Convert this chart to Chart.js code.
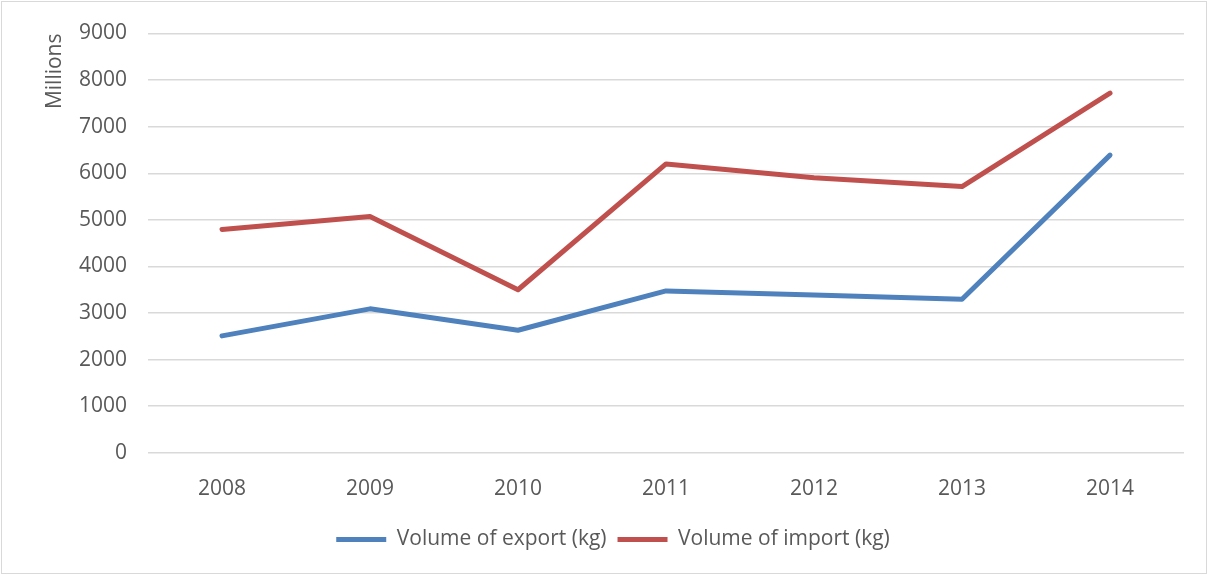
<!DOCTYPE html>
<html>
<head>
<meta charset="utf-8">
<script src="https://cdn.jsdelivr.net/npm/chart.js@4"></script>
<style>
    html, body { margin: 0; padding: 0; background: #fff; }
    #wrap {
        position: absolute; left: 1px; top: 1px;
        width: 1204px; height: 571px;
        border: 1px solid #d9d9d9;
    }
</style>
</head>
<body>
<div id="wrap"><canvas id="chart"></canvas></div>
<script>
// Export / import volumes, millions of kg
const years = ['2008', '2009', '2010', '2011', '2012', '2013', '2014'];
const exportVolume = [2510, 3090, 2630, 3475, 3385, 3295, 6390];
const importVolume = [4795, 5070, 3500, 6200, 5905, 5715, 7720];
const yTicks = [0, 1000, 2000, 3000, 4000, 5000, 6000, 7000, 8000, 9000];

const fontFamily = '"Open Sans", "Noto Sans", sans-serif';
const textColor = '#595959';

const ctx = document.getElementById('chart').getContext('2d');
new Chart(ctx, {
    type: 'line',
    data: {
        labels: years,
        datasets: [{
            label: 'Volume of export (kg)',
            data: exportVolume,
            borderColor: '#4f81bd',
            backgroundColor: '#4f81bd',
            borderWidth: 5,
            pointRadius: 0,
            borderCapStyle: 'round',
            borderJoinStyle: 'round',
            tension: 0
        }, {
            label: 'Volume of import (kg)',
            data: importVolume,
            borderColor: '#c0504d',
            backgroundColor: '#c0504d',
            borderWidth: 5,
            pointRadius: 0,
            borderCapStyle: 'round',
            borderJoinStyle: 'round',
            tension: 0
        }]
    },
    options: {
        responsive: true,
        maintainAspectRatio: false,
        animation: false,
        layout: { padding: { top: 0, right: 22, bottom: 13, left: 40 } },
        plugins: {
            legend: {
                position: 'bottom',
                labels: {
                    boxWidth: 50,
                    boxHeight: 0,
                    padding: 11,
                    color: textColor,
                    font: { family: fontFamily, size: 21 },
                    generateLabels(chart) {
                        return chart.data.datasets.map((ds, i) => ({
                            text: ds.label,
                            strokeStyle: ds.borderColor,
                            fillStyle: ds.borderColor,
                            lineWidth: 5,
                            lineCap: 'round',
                            fontColor: textColor,
                            datasetIndex: i
                        }));
                    }
                }
            },
            tooltip: { enabled: false }
        },
        scales: {
            x: {
                offset: true,
                grid: { display: false },
                border: { display: false },
                ticks: {
                    color: textColor,
                    padding: 16,
                    font: { family: fontFamily, size: 21 }
                }
            },
            y: {
                min: 0,
                max: 9000,
                afterBuildTicks(axis) {
                    axis.ticks = yTicks.map(v => ({ value: v }));
                },
                afterFit(axis) { axis.width = 106; },
                grid: { color: '#d9d9d9', lineWidth: 1.5, drawTicks: false },
                border: { display: false },
                ticks: {
                    color: textColor,
                    padding: 21,
                    font: { family: fontFamily, size: 21, lineHeight: 1 },
                    callback: v => String(v)
                },
                title: {
                    display: true,
                    text: 'Millions',
                    align: 'end',
                    color: textColor,
                    padding: { top: 0, bottom: 0 },
                    font: { family: fontFamily, size: 21 }
                }
            }
        }
    }
});
</script>
</body>
</html>
